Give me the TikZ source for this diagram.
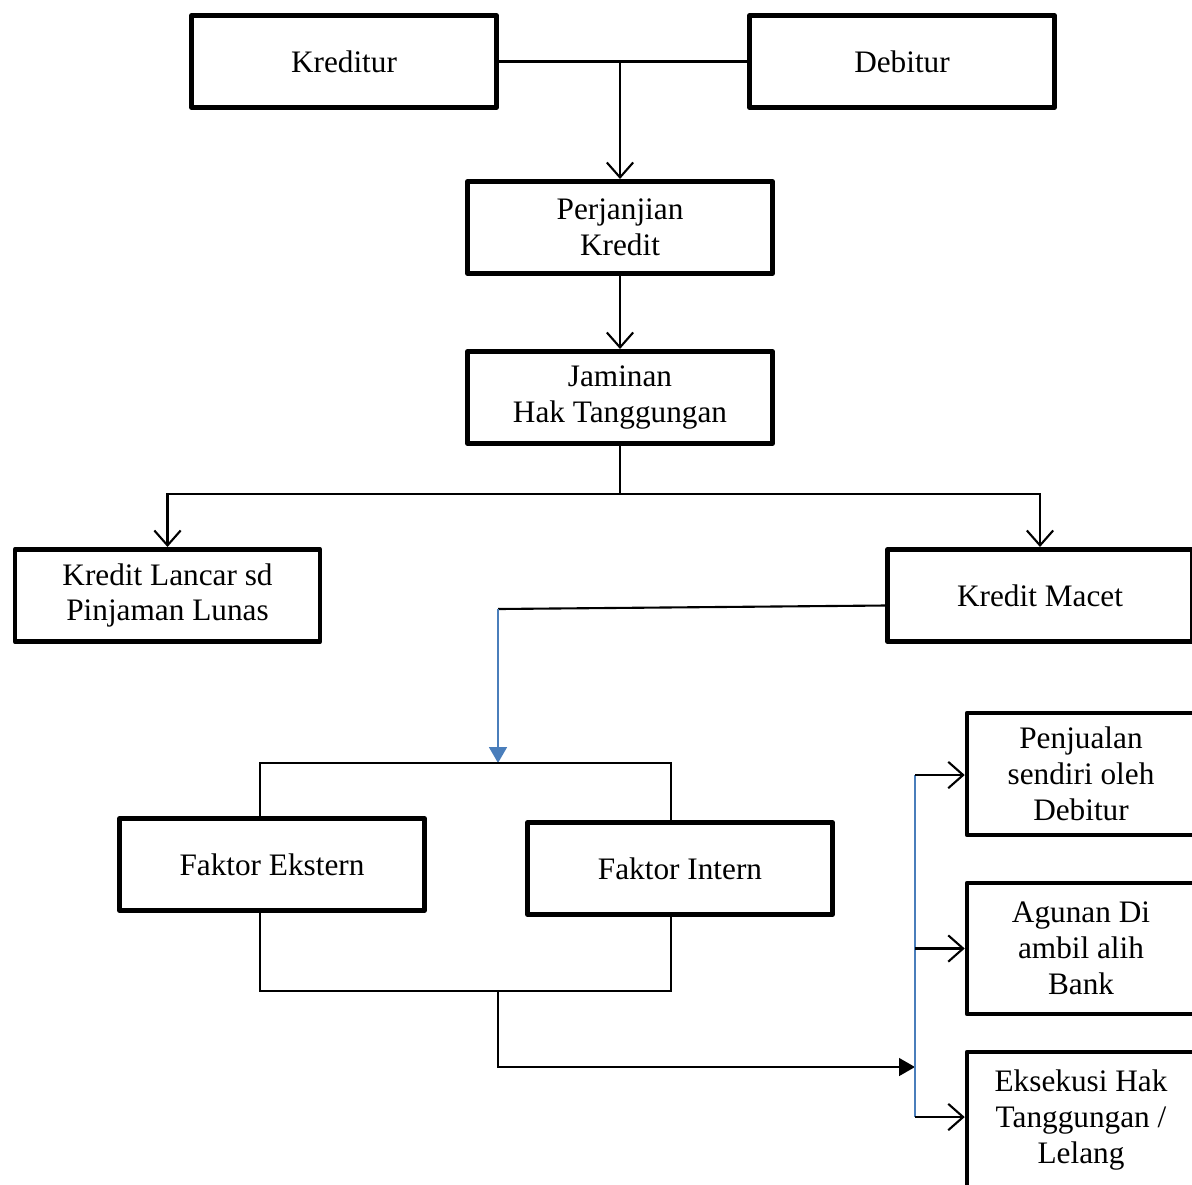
\documentclass[tikz,border=0pt]{standalone}
\usepackage{fontspec}
\setmainfont{Liberation Serif}
\usetikzlibrary{arrows.meta,positioning}
\definecolor{lineblue}{RGB}{74,126,187}
\tikzset{
    box/.style = {
        draw,
        rectangle,
        line width=2.6pt,
        line join=round,
        minimum width=6.1cm,
        minimum height=1.85cm,
        align=center,
        inner sep=0pt,
        font=\fontsize{17.8}{20.4}\selectfont,
        },
    side box/.style = {
        box,
        minimum width=4.56cm,
        },
    link/.style = {
        line width=1.2pt,
        },
    blue link/.style = {
        draw=lineblue,
        line width=1.4pt,
        },
    open tip/.style = {
        -{Straight Barb[length=8.5pt,width=15pt,line width=1.2pt]},
        },
    solid tip/.style = {
        -{Triangle[length=9pt,width=10pt]},
        },
}

\begin{document}
\begin{tikzpicture}[x=0.02cm, y=-0.02cm]
            \useasboundingbox (0,0) rectangle (1192,1184);
            \clip (0,0) rectangle (1192,1184);

            % boxes
            \node[box] (kreditur) at (344,61.5) {Kreditur};
            \node[box] (debitur) at (902,61.5) {Debitur};
            \node[box] (perjanjian) at (620,227.5) {Perjanjian\\Kredit};
            \node[box] (jaminan) at (620,397.5) {Jaminan\\Hak Tanggungan};
            \node[box] (lancar) at (167.5,595.5) {Kredit Lancar sd\\Pinjaman Lunas};
            \node[box] (macet) at (1040,595.5) {Kredit Macet};
            \node[box] (ekstern) at (272,864.5) {Faktor Ekstern};
            \node[box] (intern) at (680,868.5) {Faktor Intern};
            \node[side box, minimum height=2.44cm] (penjualan) at (1081,774) {Penjualan\\sendiri oleh\\Debitur};
            \node[side box, minimum height=2.62cm] (agunan) at (1081,948.5) {Agunan Di\\ambil alih\\Bank};
            \node[side box, minimum height=2.72cm] (eksekusi) at (1081,1120) {Eksekusi Hak\\Tanggungan /\\Lelang};

            % points where lines meet
            \coordinate (split) at (620,494);
            \coordinate (bend) at (498,609);
            \coordinate (top left) at (260,763);
            \coordinate (top mid) at (498,763);
            \coordinate (top right) at (671,763);
            \coordinate (bot left) at (260,991);
            \coordinate (bot mid) at (498,991);
            \coordinate (bot right) at (671,991);
            \coordinate (hub) at (915,1067);
            \coordinate (hub top) at (915,775);
            \coordinate (hub bot) at (915,1117);

            \draw[link] (kreditur) -- (debitur);
            \draw[link, open tip] (perjanjian.north |- kreditur.east) -- (perjanjian.north);
            \draw[link, open tip] (perjanjian) -- (jaminan);
            \draw[link] (jaminan.south) -- (split);
            \draw[link, open tip] (split) -| (lancar.north);
            \draw[link, open tip] (split) -| (macet.north);

            \draw[link] ([yshift=-0.2cm]macet.west) -- (bend);
            \draw[blue link, -{Triangle[length=9pt,width=10pt]}, fill=lineblue] (bend) -- (top mid);
            \draw[link] (ekstern.north -| top left) -- (top left) -- (top right) -- (intern.north -| top right);
            \draw[link] (ekstern.south -| bot left) -- (bot left) -- (bot right) -- (intern.south -| bot right);
            \draw[link, solid tip] (bot mid) |- (hub);

            \draw[blue link] (hub top) -- (hub bot);
            \draw[link, open tip] (hub top) -- (penjualan.west |- hub top);
            \draw[link, open tip] (agunan.west -| hub) -- (agunan.west);
            \draw[link, open tip] (hub bot) -- (eksekusi.west |- hub bot);
        \end{tikzpicture}
\end{document}
